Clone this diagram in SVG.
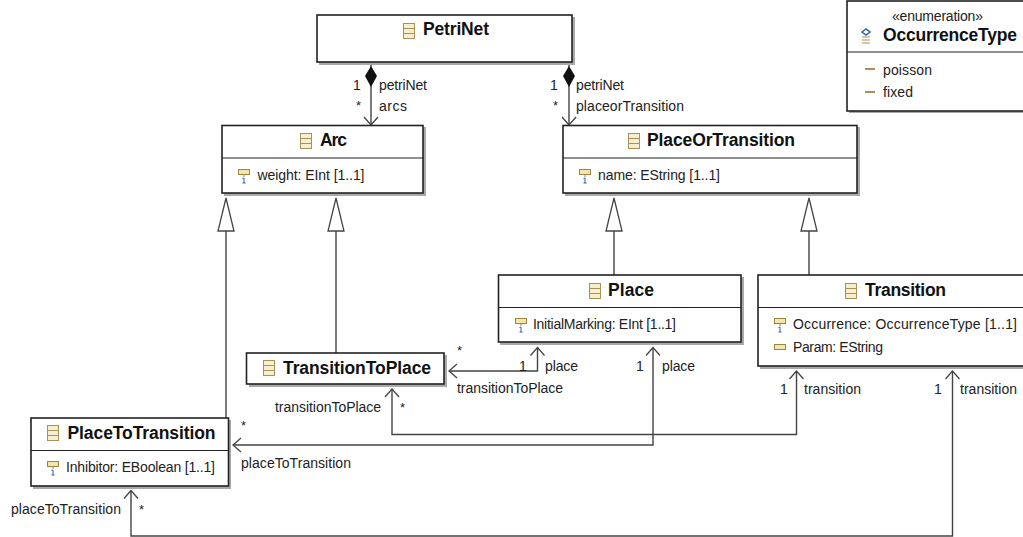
<svg xmlns="http://www.w3.org/2000/svg" xmlns:xlink="http://www.w3.org/1999/xlink" width="1023" height="537" viewBox="0 0 1023 537">
<style>
text{font-family:"Liberation Sans",Arial,sans-serif;font-size:14px;fill:#222}
.t{font-size:17.500px;font-weight:700;fill:#111}
.box{fill:#fff;stroke:#222;stroke-width:1.6}
.sh{fill:#aaa}
.div{stroke:#222;stroke-width:1.2}
.c{fill:none;stroke:#444;stroke-width:1.4}
.w{fill:none;stroke:#444;stroke-width:1.3}
.s{font-size:13px}
</style>
<defs>
<g id="ci"><rect x="0.5" y="0.5" width="11" height="15" fill="#f6efcf" stroke="#a8925a"/><path d="M1 5.5H11M1 10.5H11" stroke="#a8925a"/></g>
<g id="ai"><rect x="0.5" y="0.5" width="11" height="5" fill="#f3e6a8" stroke="#9c8443"/><path d="M6 6V8" stroke="#9c8443"/><path d="M4.500 9.500L6 9V14M4.500 14H7.500" stroke="#2a63a8" fill="none"/></g>
<g id="pi"><rect x="0.5" y="0.5" width="11" height="5" fill="#f3e6a8" stroke="#9c8443"/></g>
<path id="tri" d="M0 0L8 33H-8Z" fill="#fff" stroke="#444" stroke-width="1.3"/>
<path id="up" d="M-7 8L0 0L7 8" class="w"/>
<path id="dn" d="M-7 -8L0 0L7 -8" class="w"/>
<path id="lf" d="M8 -7L0 0L8 7" class="w"/>
<path id="dia" d="M0 0L6 10L0 21L-6 10Z" fill="#111"/>
</defs>

<g id="connectors">
<path class="c" d="M371 62V125"/><use xlink:href="#dn" href="#dn" x="371" y="125"/><use xlink:href="#dia" href="#dia" x="371" y="66"/>
<path class="c" d="M569 62V125"/><use xlink:href="#dn" href="#dn" x="569" y="125"/><use xlink:href="#dia" href="#dia" x="569" y="66"/>
<path class="c" d="M226 231V418M336 231V353M614 231V275M809 231V275"/>
<use xlink:href="#tri" href="#tri" x="226" y="198"/>
<use xlink:href="#tri" href="#tri" x="336" y="198"/>
<use xlink:href="#tri" href="#tri" x="614" y="198"/>
<use xlink:href="#tri" href="#tri" x="809" y="198"/>
<path class="c" d="M449 371H537.500V347.500"/><use xlink:href="#lf" href="#lf" x="449" y="371"/><use xlink:href="#up" href="#up" x="537.500" y="347.500"/>
<path class="c" d="M653 347.500V445H233"/><use xlink:href="#up" href="#up" x="653" y="347.500"/><use xlink:href="#lf" href="#lf" x="233" y="445"/>
<path class="c" d="M796.500 371V434.500H392V389"/><use xlink:href="#up" href="#up" x="796.500" y="371"/><use xlink:href="#up" href="#up" x="392" y="389"/>
<path class="c" d="M952.500 371V536H131V490.500"/><use xlink:href="#up" href="#up" x="952.500" y="371"/><use xlink:href="#up" href="#up" x="131" y="490.500"/>
<text x="353" y="90">1</text><text x="379" y="90" textLength="48">petriNet</text>
<text x="356" y="110" class="s">*</text><text x="379" y="111" textLength="28">arcs</text>
<text x="550" y="90">1</text><text x="576" y="90" textLength="48">petriNet</text>
<text x="553" y="110" class="s">*</text><text x="576" y="111" textLength="108">placeorTransition</text>
<text x="457" y="355" class="s">*</text>
<text x="519" y="371">1</text><text x="545" y="371" textLength="33">place</text>
<text x="457" y="393" textLength="106">transitionToPlace</text>
<text x="636" y="371">1</text><text x="662" y="371" textLength="33">place</text>
<text x="780" y="394">1</text><text x="804" y="394" textLength="57">transition</text>
<text x="934" y="394">1</text><text x="960" y="394" textLength="57">transition</text>
<text x="275" y="412" textLength="106">transitionToPlace</text><text x="400" y="412" class="s">*</text>
<text x="241" y="430" class="s">*</text>
<text x="241" y="468" textLength="110">placeToTransition</text>
<text x="11" y="514" textLength="110">placeToTransition</text><text x="139" y="514" class="s">*</text>
</g>

<g id="PetriNet"><rect class="sh" x="319" y="17" width="256" height="48"/><rect class="box" x="317" y="15" width="255" height="47"/><use xlink:href="#ci" href="#ci" x="403" y="23"/><text class="t" x="423" y="35" textLength="66">PetriNet</text></g>

<g id="Arc"><rect class="sh" x="224" y="127" width="202" height="69"/><rect class="box" x="222" y="125.500" width="201" height="67.500"/><path class="div" d="M222 158H423"/><use xlink:href="#ci" href="#ci" x="300" y="133"/><text class="t" x="320" y="146" textLength="27">Arc</text><use xlink:href="#ai" href="#ai" x="238" y="169"/><text x="257.500" y="180" textLength="107">weight: EInt [1..1]</text></g>

<g id="PlaceOrTransition"><rect class="sh" x="565" y="127" width="295" height="69"/><rect class="box" x="563" y="125.500" width="294" height="67.500"/><path class="div" d="M563 158H857"/><use xlink:href="#ci" href="#ci" x="628" y="133"/><text class="t" x="647" y="146" textLength="148">PlaceOrTransition</text><use xlink:href="#ai" href="#ai" x="579" y="169"/><text x="598" y="180" textLength="122">name: EString [1..1]</text></g>

<g id="Place"><rect class="sh" x="500" y="277" width="244" height="68"/><rect class="box" x="498.500" y="275" width="242.500" height="67"/><path class="div" d="M498 307.500H741"/><use xlink:href="#ci" href="#ci" x="589" y="283"/><text class="t" x="608" y="296" textLength="46">Place</text><use xlink:href="#ai" href="#ai" x="515" y="318"/><text x="533" y="329" textLength="143">InitialMarking: EInt [1..1]</text></g>

<g id="Transition"><rect class="sh" x="760" y="277" width="280" height="92"/><rect class="box" x="758" y="275" width="280" height="91"/><path class="div" d="M758 307.500H1038"/><use xlink:href="#ci" href="#ci" x="845" y="283"/><text class="t" x="865" y="296" textLength="81">Transition</text><use xlink:href="#ai" href="#ai" x="774" y="318"/><text x="793" y="329" textLength="224">Occurrence: OccurrenceType [1..1]</text><use xlink:href="#pi" href="#pi" x="774" y="344"/><text x="793" y="352" textLength="90">Param: EString</text></g>

<g id="TransitionToPlace"><rect class="sh" x="249" y="355" width="198" height="32"/><rect class="box" x="246.500" y="353" width="197.500" height="31"/><use xlink:href="#ci" href="#ci" x="263" y="360"/><text class="t" x="283" y="374" textLength="148">TransitionToPlace</text></g>

<g id="PlaceToTransition"><rect class="sh" x="33" y="420" width="198" height="69"/><rect class="box" x="31" y="418" width="197.500" height="68"/><path class="div" d="M31 450.500H228.500"/><use xlink:href="#ci" href="#ci" x="47" y="425"/><text class="t" x="67.500" y="438.500" textLength="148">PlaceToTransition</text><use xlink:href="#ai" href="#ai" x="47" y="461"/><text x="66" y="472" textLength="149">Inhibitor: EBoolean [1..1]</text></g>

<g id="OccurrenceType"><rect class="sh" x="849" y="3" width="190" height="110"/><rect class="box" x="847" y="1" width="190" height="110"/><path class="div" d="M847 52H1037"/><text x="892" y="21" textLength="91">«enumeration»</text><path d="M862 32L866 29L870 32L866 35Z" fill="none" stroke="#2a63a8" stroke-width="1.500"/><path d="M862 37H870M862 40H870M862 43H870" stroke="#a8925a"/><text class="t" x="883" y="41" textLength="134">OccurrenceType</text><path d="M865 69H875M865 92H875" stroke="#a8925a" stroke-width="2"/><text x="883" y="75" textLength="49">poisson</text><text x="883" y="97" textLength="30">fixed</text></g>
</svg>
